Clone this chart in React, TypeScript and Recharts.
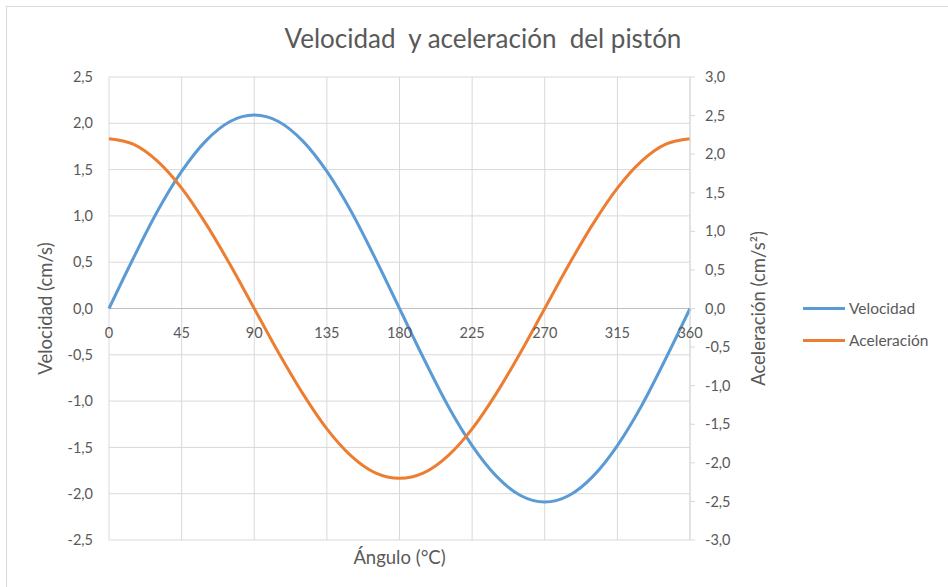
import {
  ComposedChart,
  Line,
  XAxis,
  YAxis,
  CartesianGrid,
  Legend,
  ReferenceLine,
} from 'recharts';

// ángulo de la manivela (grados)
const angulos = [0, 15, 30, 45, 60, 75, 90, 105, 120, 135, 150, 165, 180, 195, 210, 225, 240, 255, 270, 285, 300, 315, 330, 345, 360];

// velocidad del pistón (cm/s) - eje izquierdo
const velocidad = [0, 0.54, 1.05, 1.48, 1.81, 2.02, 2.09, 2.02, 1.81, 1.48, 1.05, 0.54, 0, -0.54, -1.05, -1.48, -1.81, -2.02, -2.09, -2.02, -1.81, -1.48, -1.05, -0.54, 0];

// aceleración del pistón (cm/s²) - eje derecho
const aceleracion = [2.2, 2.13, 1.91, 1.56, 1.1, 0.57, 0, -0.57, -1.1, -1.56, -1.91, -2.13, -2.2, -2.13, -1.91, -1.56, -1.1, -0.57, 0, 0.57, 1.1, 1.56, 1.91, 2.13, 2.2];

const xTicks = [0, 45, 90, 135, 180, 225, 270, 315, 360];
const leftTicks = [-2.5, -2, -1.5, -1, -0.5, 0, 0.5, 1, 1.5, 2, 2.5];
const rightTicks = [-3, -2.5, -2, -1.5, -1, -0.5, 0, 0.5, 1, 1.5, 2, 2.5, 3];

const data = angulos.map((a, i) => ({
  angulo: a,
  velocidad: velocidad[i],
  aceleracion: aceleracion[i],
}));

const W = 948;
const H = 587;
const MARGIN = { top: 77, right: 148, bottom: 7, left: 0 };
const X_AXIS_H = 40;
const PLOT_H = H - MARGIN.top - MARGIN.bottom - X_AXIS_H;
const ZERO_Y = MARGIN.top + PLOT_H / 2;

const FONT = 'Lato, "Open Sans", sans-serif';
const TEXT = '#595959';
const GRID = '#D9D9D9';

const fmt = (v: number) => v.toFixed(1).replace('.', ',');

// Excel pone las etiquetas del eje X sobre la línea del cero
function ZeroTick({ x, payload }: { x?: number; payload?: { value: number } }) {
  return (
    <text x={x} y={ZERO_Y + 24} textAnchor="middle" dominantBaseline="central" fill={TEXT} fontSize={14.5} fontFamily={FONT}>
      {payload?.value}
    </text>
  );
}

function LegendBox() {
  const items = [
    { name: 'Velocidad', color: '#5B9BD5' },
    { name: 'Aceleración', color: '#ED7D31' },
  ];
  return (
    <div style={{ fontFamily: FONT, fontSize: 15.5, color: TEXT }}>
      {items.map((it) => (
        <div key={it.name} style={{ display: 'flex', alignItems: 'center', height: 32 }}>
          <span style={{ display: 'inline-block', width: 42, height: 3, background: it.color, marginRight: 4 }} />
          {it.name}
        </div>
      ))}
    </div>
  );
}

export default function App() {
  return (
    <div style={{ position: 'absolute', left: 0, top: 0, width: W, height: H, overflow: 'hidden', background: '#fff' }}>
      <div
        style={{
          position: 'absolute',
          left: 6,
          top: 6,
          right: 0,
          bottom: 0,
          borderLeft: `1px solid ${GRID}`,
          borderTop: `1px solid ${GRID}`,
        }}
      />
      <div
        style={{
          position: 'absolute',
          left: 0,
          width: 966,
          top: 22,
          textAlign: 'center',
          fontFamily: FONT,
          fontSize: 26,
          color: TEXT,
          whiteSpace: 'pre',
        }}
      >
        {'Velocidad  y aceleración  del pistón'}
      </div>
      <ComposedChart width={W} height={H} data={data} margin={MARGIN}>
        <CartesianGrid yAxisId="left" stroke={GRID} strokeWidth={1} />
        <XAxis
          dataKey="angulo"
          type="number"
          domain={[0, 360]}
          ticks={xTicks}
          height={X_AXIS_H}
          axisLine={false}
          tickLine={false}
          tick={<ZeroTick />}
          label={{ value: 'Ángulo (°C)', position: 'insideBottom', offset: 16, fill: TEXT, fontSize: 18.5, fontFamily: FONT }}
        />
        <YAxis
          yAxisId="left"
          domain={[-2.5, 2.5]}
          ticks={leftTicks}
          width={109}
          axisLine={false}
          tickLine={false}
          tickSize={0}
          tickMargin={16}
          tickFormatter={fmt}
          tick={{ fill: TEXT, fontSize: 14.5, fontFamily: FONT }}
          label={{
            value: 'Velocidad (cm/s)',
            angle: -90,
            position: 'insideLeft',
            offset: 45,
            fill: TEXT,
            fontSize: 18.5,
            fontFamily: FONT,
            style: { textAnchor: 'middle' },
          }}
        />
        <YAxis
          yAxisId="right"
          orientation="right"
          domain={[-3, 3]}
          ticks={rightTicks}
          width={110}
          axisLine={{ stroke: GRID }}
          tickLine={{ stroke: GRID }}
          tickSize={5}
          tickMargin={10}
          tickFormatter={fmt}
          tick={{ fill: TEXT, fontSize: 14.5, fontFamily: FONT }}
          label={{
            value: 'Aceleración (cm/s²)',
            angle: -90,
            position: 'insideRight',
            offset: 42,
            fill: TEXT,
            fontSize: 18.5,
            fontFamily: FONT,
            style: { textAnchor: 'middle' },
          }}
        />
        <ReferenceLine yAxisId="left" y={0} stroke="#BFBFBF" strokeWidth={1} />
        <Legend
          layout="vertical"
          align="center"
          verticalAlign="middle"
          content={<LegendBox />}
          wrapperStyle={{ left: 803, top: 292, width: 140 }}
        />
        <Line
          yAxisId="left"
          type="monotone"
          dataKey="velocidad"
          name="Velocidad"
          stroke="#5B9BD5"
          strokeWidth={3}
          dot={false}
          isAnimationActive={false}
        />
        <Line
          yAxisId="right"
          type="monotone"
          dataKey="aceleracion"
          name="Aceleración"
          stroke="#ED7D31"
          strokeWidth={3}
          dot={false}
          isAnimationActive={false}
        />
      </ComposedChart>
    </div>
  );
}
